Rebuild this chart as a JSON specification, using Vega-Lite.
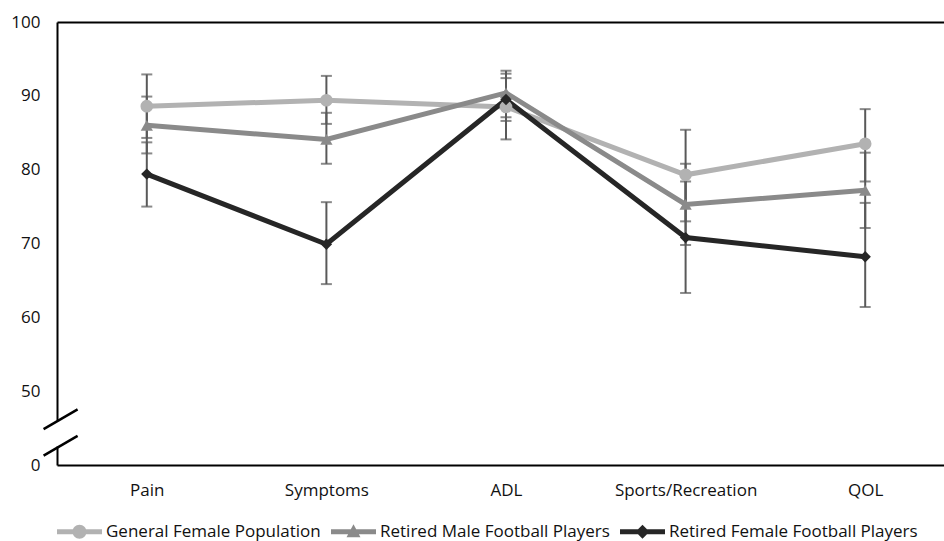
{
  "$schema": "https://vega.github.io/schema/vega-lite/v6.json",
  "width": 898,
  "height": 443,
  "autosize": {"type": "none"},
  "padding": {"left": 57, "top": 22, "right": 0, "bottom": 76},
  "background": "white",
  "config": {
    "view": {"stroke": null},
    "font": "Open Sans",
    "axis": {"labelFont": "Open Sans", "labelFontSize": 17, "labelColor": "#111111", "grid": false, "ticks": false, "tickSize": 0, "domainColor": "#000000", "domainWidth": 2, "title": null},
    "legend": {"labelFont": "Open Sans", "labelFontSize": 17, "labelColor": "#111111", "labelLimit": 0}
  },
  "data": {
    "values": [
      {"measure": "Pain", "series": "General Female Population", "mean": 88.6, "lo": 84.3, "hi": 92.9},
      {"measure": "Pain", "series": "Retired Male Football Players", "mean": 86.0, "lo": 82.2, "hi": 89.9},
      {"measure": "Pain", "series": "Retired Female Football Players", "mean": 79.4, "lo": 75.0, "hi": 83.7},
      {"measure": "Symptoms", "series": "General Female Population", "mean": 89.4, "lo": 86.2, "hi": 92.7},
      {"measure": "Symptoms", "series": "Retired Male Football Players", "mean": 84.1, "lo": 80.8, "hi": 87.7},
      {"measure": "Symptoms", "series": "Retired Female Football Players", "mean": 69.9, "lo": 64.5, "hi": 75.6},
      {"measure": "ADL", "series": "General Female Population", "mean": 88.5, "lo": 84.1, "hi": 93.0},
      {"measure": "ADL", "series": "Retired Male Football Players", "mean": 90.4, "lo": 87.1, "hi": 93.4},
      {"measure": "ADL", "series": "Retired Female Football Players", "mean": 89.5, "lo": 86.6, "hi": 92.4},
      {"measure": "Sports/Recreation", "series": "General Female Population", "mean": 79.3, "lo": 73.0, "hi": 85.4},
      {"measure": "Sports/Recreation", "series": "Retired Male Football Players", "mean": 75.3, "lo": 69.8, "hi": 80.8},
      {"measure": "Sports/Recreation", "series": "Retired Female Football Players", "mean": 70.8, "lo": 63.3, "hi": 78.4},
      {"measure": "QOL", "series": "General Female Population", "mean": 83.5, "lo": 78.4, "hi": 88.2},
      {"measure": "QOL", "series": "Retired Male Football Players", "mean": 77.2, "lo": 72.1, "hi": 82.3},
      {"measure": "QOL", "series": "Retired Female Football Players", "mean": 68.2, "lo": 61.4, "hi": 75.5}
    ]
  },
  "layer": [
    {
      "encoding": {
        "x": {
          "field": "measure", "type": "nominal",
          "sort": ["Pain", "Symptoms", "ADL", "Sports/Recreation", "QOL"],
          "scale": {"type": "point", "padding": 0.5},
          "axis": {"labelAngle": 0, "labelPadding": 17, "title": null}
        }
      },
      "layer": [
        {
          "mark": {"type": "errorbar", "ticks": {"size": 11, "color": "#595959", "thickness": 2}, "rule": {"color": "#595959", "strokeWidth": 2}},
          "encoding": {
            "y": {"field": "lo", "type": "quantitative", "title": null, "scale": {"domain": [40, 100], "nice": false, "zero": false}},
            "y2": {"field": "hi"}
          }
        },
        {
          "mark": {"type": "line", "strokeWidth": 5},
          "encoding": {
            "y": {
              "field": "mean", "type": "quantitative", "title": null,
              "scale": {"domain": [40, 100], "nice": false, "zero": false},
              "axis": {"values": [40, 50, 60, 70, 80, 90, 100], "labelExpr": "datum.value == 40 ? '0' : datum.label", "labelPadding": 17, "domainDash": [19, 26, 2000], "title": null}
            },
            "color": {
              "field": "series", "type": "nominal",
              "scale": {"domain": ["General Female Population", "Retired Male Football Players", "Retired Female Football Players"], "range": ["#b2b2b2", "#8a8a8a", "#262626"]},
              "legend": {
                "orient": "bottom", "direction": "horizontal", "title": null,
                "offset": 11, "symbolSize": 2025, "labelOffset": 4, "columnPadding": 10,
                "encode": {
                  "symbols": {
                    "update": {
                      "shape": {"signal": "datum.value === 'General Female Population' ? 'M-1,-0.11H1V0.11H-1Z M0.31,0A0.31,0.31 0 1,1 -0.31,0A0.31,0.31 0 1,1 0.31,0Z' : datum.value === 'Retired Male Football Players' ? 'M-1,-0.11H1V0.11H-1Z M0,-0.33L0.31,0.24H-0.31Z' : 'M-1,-0.11H1V0.11H-1Z M0,-0.31L0.31,0L0,0.31L-0.31,0Z'"},
                      "fill": {"scale": "color", "field": "value"},
                      "stroke": {"value": "transparent"},
                      "strokeWidth": {"value": 0},
                      "opacity": {"value": 1}
                    }
                  }
                }
              }
            },
            "order": {"value": null}
          }
        },
        {
          "transform": [{"filter": "datum.series === 'General Female Population'"}],
          "mark": {"type": "point", "filled": true, "opacity": 1, "size": 160, "shape": "circle"},
          "encoding": {
            "y": {"field": "mean", "type": "quantitative", "title": null},
            "color": {"field": "series", "type": "nominal", "legend": null}
          }
        },
        {
          "transform": [{"filter": "datum.series === 'Retired Male Football Players'"}],
          "mark": {"type": "point", "filled": true, "opacity": 1, "size": 150, "shape": "triangle-up"},
          "encoding": {
            "y": {"field": "mean", "type": "quantitative", "title": null},
            "color": {"field": "series", "type": "nominal", "legend": null}
          }
        },
        {
          "transform": [{"filter": "datum.series === 'Retired Female Football Players'"}],
          "mark": {"type": "point", "filled": true, "opacity": 1, "size": 130, "shape": "diamond"},
          "encoding": {
            "y": {"field": "mean", "type": "quantitative", "title": null},
            "color": {"field": "series", "type": "nominal", "legend": null}
          }
        }
      ]
    },
    {
      "data": {"values": [{}]},
      "encoding": {
        "x": {"datum": 0.004, "type": "quantitative", "scale": {"domain": [0, 1]}, "axis": {"orient": "top", "labels": false, "ticks": false, "title": null, "domainColor": "#000000", "domainWidth": 2}}
      },
      "layer": [
        {
          "mark": {"type": "point", "filled": false, "shape": "M-1,0.58L1,-0.58", "size": 1156, "stroke": "#000000", "strokeWidth": 2.5, "opacity": 1},
          "encoding": {"y": {"datum": 46.2, "type": "quantitative"}}
        },
        {
          "mark": {"type": "point", "filled": false, "shape": "M-1,0.58L1,-0.58", "size": 1156, "stroke": "#000000", "strokeWidth": 2.5, "opacity": 1},
          "encoding": {"y": {"datum": 42.6, "type": "quantitative"}}
        }
      ]
    }
  ],
  "resolve": {"scale": {"x": "independent"}, "axis": {"x": "independent"}}
}
